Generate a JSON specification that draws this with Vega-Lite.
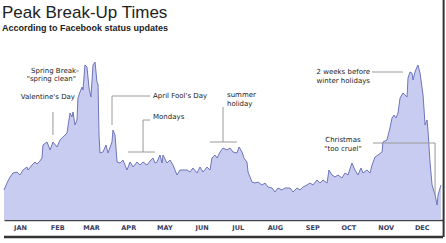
{
  "$schema": "https://vega.github.io/schema/vega-lite/v6.json",
  "width": 439,
  "height": 180,
  "autosize": "none",
  "padding": {"left": 4, "top": 40, "right": 3, "bottom": 23},
  "background": "white",
  "config": {
    "view": {"stroke": null},
    "axisX": {
      "grid": true, "gridColor": "#ffffff", "gridOpacity": 0.6, "gridWidth": 1,
      "zindex": 1, "ticks": false, "domainColor": "#444444", "domainWidth": 1.5,
      "labelOffset": 16, "labelFontSize": 6.5, "labelFontWeight": "bold", "labelColor": "#3a4060",
      "labelFont": "DejaVu Sans", "labelPadding": 4, "labelFlush": false, "labelOverlap": false,
      "labelBound": false, "title": null, "tickCount": 24
    }
  },
  "title": {
    "text": "Peak Break-Up Times",
    "subtitle": "According to Facebook status updates",
    "anchor": "start",
    "frame": "group",
    "offset": -35,
    "dx": -2,
    "font": "Liberation Sans",
    "fontSize": 17,
    "fontWeight": "normal",
    "color": "#222222",
    "subtitleFont": "Liberation Sans",
    "subtitleFontSize": 9,
    "subtitleFontWeight": "bold",
    "subtitleColor": "#222222",
    "subtitlePadding": 2
  },
  "datasets": {
    "series": [
      {"day": 0, "v": 30}, {"day": 2.5, "v": 37}, {"day": 5.0, "v": 43}, {"day": 7.5, "v": 47},
      {"day": 10.8, "v": 48}, {"day": 13.3, "v": 45}, {"day": 15.8, "v": 50}, {"day": 19.1, "v": 53},
      {"day": 20.0, "v": 50}, {"day": 23.3, "v": 55}, {"day": 25.8, "v": 58}, {"day": 27.4, "v": 56},
      {"day": 29.9, "v": 59}, {"day": 31.6, "v": 62}, {"day": 32.4, "v": 75}, {"day": 35.8, "v": 78},
      {"day": 38.3, "v": 70}, {"day": 40.7, "v": 78}, {"day": 44.1, "v": 73}, {"day": 46.6, "v": 80},
      {"day": 49.1, "v": 83}, {"day": 52.4, "v": 87}, {"day": 54.9, "v": 107}, {"day": 56.5, "v": 103},
      {"day": 57.4, "v": 108}, {"day": 59.0, "v": 95}, {"day": 60.7, "v": 100}, {"day": 61.5, "v": 122},
      {"day": 63.2, "v": 128}, {"day": 64.9, "v": 133}, {"day": 65.7, "v": 130}, {"day": 67.3, "v": 155},
      {"day": 69.0, "v": 153}, {"day": 70.7, "v": 132}, {"day": 72.3, "v": 123}, {"day": 74.0, "v": 155},
      {"day": 75.7, "v": 158}, {"day": 77.3, "v": 138}, {"day": 78.2, "v": 135}, {"day": 79.0, "v": 85},
      {"day": 79.8, "v": 67}, {"day": 82.3, "v": 68}, {"day": 84.8, "v": 75}, {"day": 86.5, "v": 67},
      {"day": 89.8, "v": 78}, {"day": 90.6, "v": 90}, {"day": 92.3, "v": 85}, {"day": 94.0, "v": 58},
      {"day": 96.5, "v": 57}, {"day": 98.9, "v": 60}, {"day": 102.3, "v": 50}, {"day": 104.8, "v": 58},
      {"day": 107.3, "v": 53}, {"day": 110.6, "v": 58}, {"day": 113.1, "v": 55}, {"day": 115.6, "v": 58},
      {"day": 118.9, "v": 55}, {"day": 121.4, "v": 59}, {"day": 123.9, "v": 62}, {"day": 125.5, "v": 57},
      {"day": 127.2, "v": 58}, {"day": 129.7, "v": 65}, {"day": 131.4, "v": 57}, {"day": 132.2, "v": 65},
      {"day": 135.5, "v": 57}, {"day": 138.0, "v": 60}, {"day": 140.5, "v": 55}, {"day": 143.8, "v": 45},
      {"day": 146.3, "v": 50}, {"day": 148.8, "v": 50}, {"day": 152.2, "v": 50}, {"day": 154.6, "v": 48},
      {"day": 157.1, "v": 52}, {"day": 160.5, "v": 47}, {"day": 163.0, "v": 53}, {"day": 165.5, "v": 48},
      {"day": 168.8, "v": 53}, {"day": 171.3, "v": 50}, {"day": 172.9, "v": 62}, {"day": 175.4, "v": 65},
      {"day": 177.1, "v": 62}, {"day": 179.6, "v": 68}, {"day": 182.1, "v": 72}, {"day": 185.4, "v": 70},
      {"day": 187.9, "v": 72}, {"day": 190.4, "v": 68}, {"day": 193.7, "v": 67}, {"day": 195.4, "v": 73},
      {"day": 197.9, "v": 68}, {"day": 199.5, "v": 62}, {"day": 202.0, "v": 58}, {"day": 202.9, "v": 48},
      {"day": 206.2, "v": 38}, {"day": 208.7, "v": 37}, {"day": 211.2, "v": 38}, {"day": 214.5, "v": 35},
      {"day": 217.0, "v": 37}, {"day": 219.5, "v": 33}, {"day": 222.8, "v": 32}, {"day": 225.3, "v": 28},
      {"day": 227.8, "v": 32}, {"day": 231.1, "v": 30}, {"day": 233.6, "v": 32}, {"day": 236.1, "v": 32},
      {"day": 237.8, "v": 32}, {"day": 240.3, "v": 28}, {"day": 243.6, "v": 32}, {"day": 246.1, "v": 30},
      {"day": 248.6, "v": 33}, {"day": 251.9, "v": 35}, {"day": 254.4, "v": 37}, {"day": 256.9, "v": 35},
      {"day": 260.2, "v": 40}, {"day": 262.7, "v": 37}, {"day": 265.2, "v": 40}, {"day": 268.6, "v": 37},
      {"day": 270.2, "v": 50}, {"day": 272.7, "v": 45}, {"day": 275.2, "v": 43}, {"day": 277.7, "v": 45},
      {"day": 281.0, "v": 42}, {"day": 283.5, "v": 47}, {"day": 286.0, "v": 45}, {"day": 289.3, "v": 57},
      {"day": 291.8, "v": 50}, {"day": 294.3, "v": 45}, {"day": 296.8, "v": 52}, {"day": 298.5, "v": 47},
      {"day": 301.8, "v": 50}, {"day": 304.3, "v": 47}, {"day": 306.0, "v": 55}, {"day": 308.5, "v": 63},
      {"day": 311.0, "v": 65}, {"day": 314.3, "v": 68}, {"day": 315.1, "v": 78}, {"day": 318.4, "v": 80},
      {"day": 320.9, "v": 92}, {"day": 322.6, "v": 102}, {"day": 324.3, "v": 105}, {"day": 325.9, "v": 102},
      {"day": 327.6, "v": 107}, {"day": 329.3, "v": 122}, {"day": 331.7, "v": 127}, {"day": 333.4, "v": 125},
      {"day": 335.1, "v": 123}, {"day": 335.9, "v": 142}, {"day": 337.6, "v": 148}, {"day": 339.2, "v": 147},
      {"day": 340.1, "v": 140}, {"day": 341.7, "v": 148}, {"day": 343.4, "v": 153}, {"day": 344.2, "v": 155},
      {"day": 345.9, "v": 147}, {"day": 347.6, "v": 132}, {"day": 348.4, "v": 125}, {"day": 350.1, "v": 95},
      {"day": 351.7, "v": 100}, {"day": 352.6, "v": 88}, {"day": 354.2, "v": 58}, {"day": 355.9, "v": 35},
      {"day": 358.4, "v": 25}, {"day": 360.1, "v": 15}, {"day": 360.9, "v": 25}, {"day": 362.6, "v": 32},
      {"day": 363.4, "v": 35}
    ],
    "leaders": [
      {"x": 40.7, "x2": 40.7, "y": 108, "y2": 85},
      {"x": 59.9, "x2": 62.4, "y": 149, "y2": 149},
      {"x": 89.8, "x2": 121.4, "y": 124, "y2": 124},
      {"x": 89.8, "x2": 89.8, "y": 124, "y2": 95},
      {"x": 115.6, "x2": 121.4, "y": 100, "y2": 100},
      {"x": 115.6, "x2": 115.6, "y": 100, "y2": 68},
      {"x": 103.1, "x2": 125.5, "y": 68, "y2": 68},
      {"x": 182.1, "x2": 182.1, "y": 113, "y2": 78},
      {"x": 171.3, "x2": 193.7, "y": 78, "y2": 78},
      {"x": 306.0, "x2": 331.7, "y": 148, "y2": 148},
      {"x": 306.8, "x2": 358.4, "y": 77, "y2": 77},
      {"x": 358.4, "x2": 358.4, "y": 77, "y2": 25}
    ],
    "notes": [
      {"day": 59.0, "v": 123, "label": "Valentine's Day", "align": "right"},
      {"day": 59.9, "v": 149, "label": "Spring Break", "align": "right"},
      {"day": 59.9, "v": 141, "label": "\"spring clean\"", "align": "right"},
      {"day": 123.9, "v": 124, "label": "April Fool's Day", "align": "left"},
      {"day": 123.9, "v": 103, "label": "Mondays", "align": "left"},
      {"day": 185.4, "v": 125, "label": "summer", "align": "left"},
      {"day": 185.4, "v": 116, "label": "holiday", "align": "left"},
      {"day": 304.3, "v": 148, "label": "2 weeks before", "align": "right"},
      {"day": 304.3, "v": 139, "label": "winter holidays", "align": "right"},
      {"day": 281.8, "v": 80, "label": "Christmas", "align": "center"},
      {"day": 281.8, "v": 71, "label": "\"too cruel\"", "align": "center"}
    ],
    "frame": [{"bottom": -17, "top": 220, "right": 365.5}]
  },
  "layer": [
    {
      "data": {"name": "series"},
      "mark": {"type": "area", "color": "#c8ccf1", "opacity": 1, "line": {"color": "#6d75bb", "strokeWidth": 1}},
      "encoding": {
        "x": {
          "field": "day", "type": "quantitative",
          "scale": {"domain": [0, 365], "nice": false, "zero": false},
          "axis": {
            "values": [0, 31, 59, 90, 120, 151, 181, 212, 243, 273, 304, 334],
            "labelExpr": "['JAN','FEB','MAR','APR','MAY','JUN','JUL','AUG','SEP','OCT','NOV','DEC'][indexof([0,31,59,90,120,151,181,212,243,273,304,334], datum.value)]",
            "labelOverlap": false,
            "tickCount": 24
          }
        },
        "y": {"field": "v", "type": "quantitative", "scale": {"domain": [0, 180], "nice": false}, "axis": null}
      }
    },
    {
      "data": {"name": "leaders"},
      "mark": {"type": "rule", "color": "#9a9a9a", "strokeWidth": 1},
      "encoding": {
        "x": {"field": "x", "type": "quantitative"},
        "x2": {"field": "x2"},
        "y": {"field": "y", "type": "quantitative"},
        "y2": {"field": "y2"}
      }
    },
    {
      "data": {"name": "notes"},
      "transform": [{"filter": "datum.align == 'right'"}],
      "mark": {"type": "text", "align": "right", "baseline": "middle", "font": "DejaVu Sans", "fontSize": 7, "color": "#222222"},
      "encoding": {
        "x": {"field": "day", "type": "quantitative"},
        "y": {"field": "v", "type": "quantitative"},
        "text": {"field": "label"}
      }
    },
    {
      "data": {"name": "notes"},
      "transform": [{"filter": "datum.align == 'left'"}],
      "mark": {"type": "text", "align": "left", "baseline": "middle", "font": "DejaVu Sans", "fontSize": 7, "color": "#222222"},
      "encoding": {
        "x": {"field": "day", "type": "quantitative"},
        "y": {"field": "v", "type": "quantitative"},
        "text": {"field": "label"}
      }
    },
    {
      "data": {"name": "notes"},
      "transform": [{"filter": "datum.align == 'center'"}],
      "mark": {"type": "text", "align": "center", "baseline": "middle", "font": "DejaVu Sans", "fontSize": 7, "color": "#222222"},
      "encoding": {
        "x": {"field": "day", "type": "quantitative"},
        "y": {"field": "v", "type": "quantitative"},
        "text": {"field": "label"}
      }
    },
    {
      "data": {"name": "frame"},
      "mark": {"type": "rule", "color": "#333333", "strokeWidth": 2.5},
      "encoding": {
        "y": {"field": "bottom", "type": "quantitative"}
      }
    },
    {
      "data": {"name": "frame"},
      "mark": {"type": "rule", "color": "#333333", "strokeWidth": 2},
      "encoding": {
        "x": {"field": "right", "type": "quantitative"},
        "y": {"field": "bottom", "type": "quantitative"},
        "y2": {"field": "top"}
      }
    }
  ]
}
